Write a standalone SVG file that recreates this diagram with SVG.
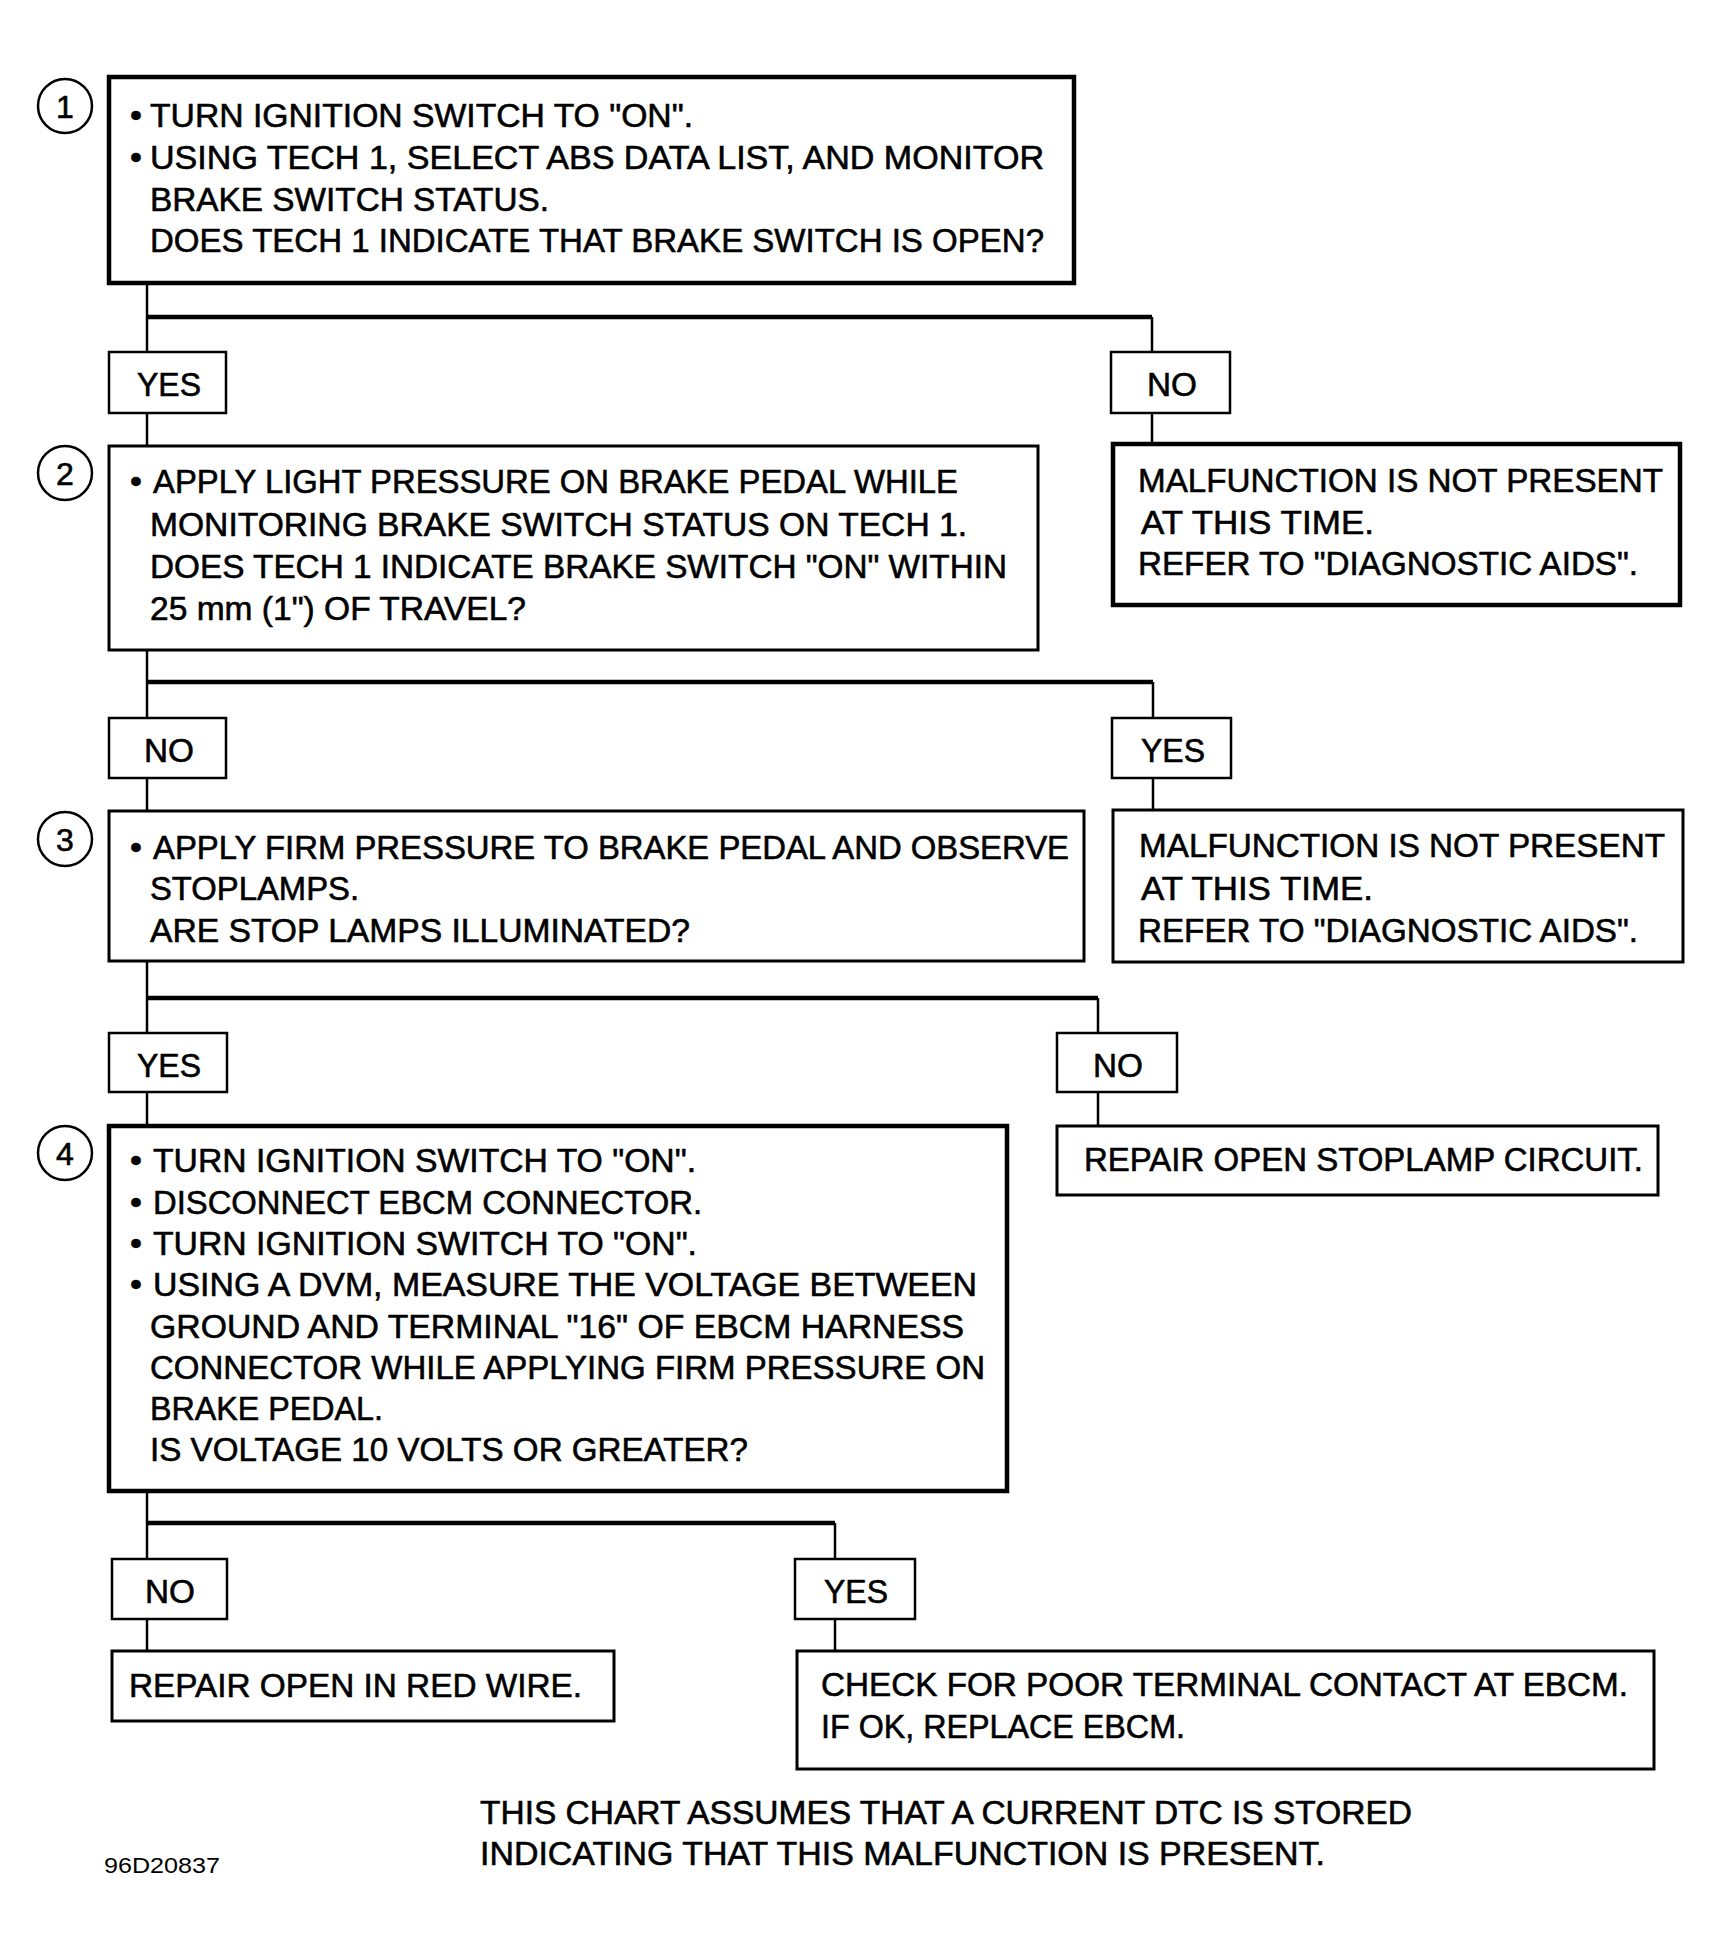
<svg xmlns="http://www.w3.org/2000/svg" width="1721" height="1947" viewBox="0 0 1721 1947">
<style>
.bg{fill:#fff}
.box{fill:#fff;stroke:#000;stroke-width:3}
.tbox{fill:#fff;stroke:#000;stroke-width:4.5}
.lbl{fill:#fff;stroke:#000;stroke-width:2.5}
.ln{fill:none;stroke:#000;stroke-width:2.5}
.hl{fill:none;stroke:#000;stroke-width:4.5}
.cir{fill:#fff;stroke:#000;stroke-width:2.5}
text{font-family:"Liberation Sans",Arial,sans-serif;font-size:34px;fill:#000;stroke:#000;stroke-width:0.6}
.c{text-anchor:middle}
.num{font-size:32px;text-anchor:middle}
.small{font-size:22px;stroke-width:0}
</style>
<rect class="bg" x="0" y="0" width="1721" height="1947"/>

<g id="connectors">
<path class="ln" d="M147 283 V352"/>
<path class="hl" d="M147 317 H1152"/>
<path class="ln" d="M1152 317 V352"/>
<path class="ln" d="M147 413 V446"/>
<path class="ln" d="M1152 413 V444"/>
<path class="ln" d="M147 650 V718"/>
<path class="hl" d="M147 682 H1153"/>
<path class="ln" d="M1153 682 V718"/>
<path class="ln" d="M147 778 V811"/>
<path class="ln" d="M1153 778 V810"/>
<path class="ln" d="M147 961 V1033"/>
<path class="hl" d="M147 998 H1098"/>
<path class="ln" d="M1098 998 V1033"/>
<path class="ln" d="M147 1092 V1126"/>
<path class="ln" d="M1098 1092 V1126"/>
<path class="ln" d="M147 1491 V1559"/>
<path class="hl" d="M147 1523 H835"/>
<path class="ln" d="M835 1523 V1559"/>
<path class="ln" d="M147 1619 V1651"/>
<path class="ln" d="M835 1619 V1651"/>
</g>

<g id="step1">
<circle class="cir" cx="65" cy="106" r="27"/>
<text class="num" x="65" y="118">1</text>
<rect class="tbox" x="109" y="77" width="965" height="206"/>
<text x="130" y="127">•</text>
<text x="150" y="127" textLength="543" lengthAdjust="spacingAndGlyphs">TURN IGNITION SWITCH TO "ON".</text>
<text x="130" y="169">•</text>
<text x="150" y="169" textLength="894" lengthAdjust="spacingAndGlyphs">USING TECH 1, SELECT ABS DATA LIST, AND MONITOR</text>
<text x="150" y="211" textLength="399" lengthAdjust="spacingAndGlyphs">BRAKE SWITCH STATUS.</text>
<text x="150" y="252" textLength="894" lengthAdjust="spacingAndGlyphs">DOES TECH 1 INDICATE THAT BRAKE SWITCH IS OPEN?</text>
</g>

<g id="yes1">
<rect class="lbl" x="109" y="352" width="117" height="61"/>
<text class="c" x="169" y="396" textLength="64" lengthAdjust="spacingAndGlyphs">YES</text>
</g>
<g id="no1">
<rect class="lbl" x="1111" y="352" width="119" height="61"/>
<text class="c" x="1172" y="396" textLength="50" lengthAdjust="spacingAndGlyphs">NO</text>
</g>

<g id="result1">
<rect class="tbox" x="1113" y="444" width="567" height="161"/>
<text x="1138" y="492" textLength="525" lengthAdjust="spacingAndGlyphs">MALFUNCTION IS NOT PRESENT</text>
<text x="1141" y="534" textLength="233" lengthAdjust="spacingAndGlyphs">AT THIS  TIME.</text>
<text x="1138" y="575" textLength="500" lengthAdjust="spacingAndGlyphs">REFER TO "DIAGNOSTIC AIDS".</text>
</g>

<g id="step2">
<circle class="cir" cx="65" cy="473" r="27"/>
<text class="num" x="65" y="485">2</text>
<rect class="box" x="109" y="446" width="929" height="204"/>
<text x="130" y="493">•</text>
<text x="153" y="493" textLength="805" lengthAdjust="spacingAndGlyphs">APPLY LIGHT PRESSURE ON BRAKE PEDAL WHILE</text>
<text x="150" y="536" textLength="817" lengthAdjust="spacingAndGlyphs">MONITORING BRAKE SWITCH STATUS ON TECH 1.</text>
<text x="150" y="578" textLength="857" lengthAdjust="spacingAndGlyphs">DOES TECH 1 INDICATE BRAKE SWITCH "ON" WITHIN</text>
<text x="150" y="620" textLength="376" lengthAdjust="spacingAndGlyphs">25 mm (1") OF TRAVEL?</text>
</g>

<g id="no2">
<rect class="lbl" x="109" y="718" width="117" height="60"/>
<text class="c" x="169" y="762" textLength="50" lengthAdjust="spacingAndGlyphs">NO</text>
</g>
<g id="yes2">
<rect class="lbl" x="1112" y="718" width="119" height="60"/>
<text class="c" x="1173" y="762" textLength="64" lengthAdjust="spacingAndGlyphs">YES</text>
</g>

<g id="result2">
<rect class="box" x="1113" y="810" width="570" height="152"/>
<text x="1139" y="857" textLength="526" lengthAdjust="spacingAndGlyphs">MALFUNCTION IS NOT PRESENT</text>
<text x="1141" y="900" textLength="232" lengthAdjust="spacingAndGlyphs">AT THIS TIME.</text>
<text x="1138" y="942" textLength="500" lengthAdjust="spacingAndGlyphs">REFER TO "DIAGNOSTIC AIDS".</text>
</g>

<g id="step3">
<circle class="cir" cx="65" cy="839" r="27"/>
<text class="num" x="65" y="851">3</text>
<rect class="box" x="109" y="811" width="975" height="150"/>
<text x="130" y="859">•</text>
<text x="153" y="859" textLength="916" lengthAdjust="spacingAndGlyphs">APPLY FIRM PRESSURE TO BRAKE PEDAL AND OBSERVE</text>
<text x="150" y="900" textLength="209" lengthAdjust="spacingAndGlyphs">STOPLAMPS.</text>
<text x="150" y="942" textLength="540" lengthAdjust="spacingAndGlyphs">ARE STOP LAMPS ILLUMINATED?</text>
</g>

<g id="yes3">
<rect class="lbl" x="109" y="1033" width="118" height="59"/>
<text class="c" x="169" y="1077" textLength="64" lengthAdjust="spacingAndGlyphs">YES</text>
</g>
<g id="no3">
<rect class="lbl" x="1057" y="1033" width="120" height="59"/>
<text class="c" x="1118" y="1077" textLength="50" lengthAdjust="spacingAndGlyphs">NO</text>
</g>

<g id="result3">
<rect class="box" x="1057" y="1126" width="601" height="69"/>
<text x="1084" y="1171" textLength="559" lengthAdjust="spacingAndGlyphs">REPAIR OPEN STOPLAMP CIRCUIT.</text>
</g>

<g id="step4">
<circle class="cir" cx="65" cy="1153" r="27"/>
<text class="num" x="65" y="1165">4</text>
<rect class="tbox" x="109" y="1126" width="898" height="365"/>
<text x="130" y="1172">•</text>
<text x="153" y="1172" textLength="543" lengthAdjust="spacingAndGlyphs">TURN IGNITION SWITCH TO "ON".</text>
<text x="130" y="1214">•</text>
<text x="153" y="1214" textLength="549" lengthAdjust="spacingAndGlyphs">DISCONNECT EBCM CONNECTOR.</text>
<text x="130" y="1255">•</text>
<text x="153" y="1255" textLength="544" lengthAdjust="spacingAndGlyphs">TURN IGNITION SWITCH TO "ON".</text>
<text x="130" y="1296">•</text>
<text x="153" y="1296" textLength="824" lengthAdjust="spacingAndGlyphs">USING A DVM, MEASURE THE VOLTAGE BETWEEN</text>
<text x="150" y="1338" textLength="814" lengthAdjust="spacingAndGlyphs">GROUND AND TERMINAL "16" OF EBCM HARNESS</text>
<text x="150" y="1379" textLength="835" lengthAdjust="spacingAndGlyphs">CONNECTOR WHILE APPLYING FIRM PRESSURE ON</text>
<text x="150" y="1420" textLength="233" lengthAdjust="spacingAndGlyphs">BRAKE PEDAL.</text>
<text x="150" y="1461" textLength="598" lengthAdjust="spacingAndGlyphs">IS VOLTAGE 10 VOLTS OR GREATER?</text>
</g>

<g id="no4">
<rect class="lbl" x="112" y="1559" width="115" height="60"/>
<text class="c" x="170" y="1603" textLength="50" lengthAdjust="spacingAndGlyphs">NO</text>
</g>
<g id="yes4">
<rect class="lbl" x="795" y="1559" width="120" height="60"/>
<text class="c" x="856" y="1603" textLength="64" lengthAdjust="spacingAndGlyphs">YES</text>
</g>

<g id="result4">
<rect class="box" x="112" y="1651" width="502" height="70"/>
<text x="129" y="1697" textLength="453" lengthAdjust="spacingAndGlyphs">REPAIR OPEN IN RED WIRE.</text>
</g>

<g id="result5">
<rect class="box" x="797" y="1651" width="857" height="118"/>
<text x="821" y="1696" textLength="807" lengthAdjust="spacingAndGlyphs">CHECK FOR POOR TERMINAL CONTACT AT EBCM.</text>
<text x="821" y="1738" textLength="364" lengthAdjust="spacingAndGlyphs">IF OK, REPLACE EBCM.</text>
</g>

<g id="notes">
<text x="480" y="1824" textLength="932" lengthAdjust="spacingAndGlyphs">THIS CHART ASSUMES THAT A CURRENT DTC IS STORED</text>
<text x="480" y="1865" textLength="845" lengthAdjust="spacingAndGlyphs">INDICATING THAT THIS MALFUNCTION IS PRESENT.</text>
<text class="small" x="104" y="1873" textLength="116" lengthAdjust="spacingAndGlyphs">96D20837</text>
</g>
</svg>
